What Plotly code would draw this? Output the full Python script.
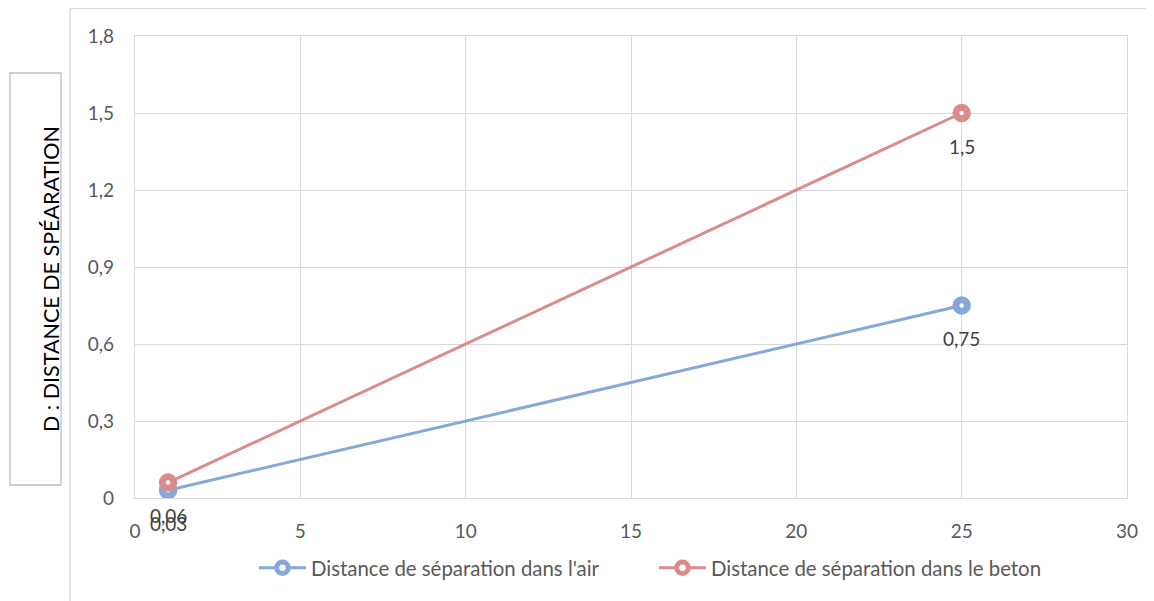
import plotly.graph_objects as go

x_vals = [1, 25]
air_vals = [0.03, 0.75]
beton_vals = [0.06, 1.5]
air_name = "Distance de séparation dans l'air"
beton_name = "Distance de séparation dans le beton"
y_title = "D : DISTANCE DE SPÉARATION"
label_fmt = lambda v: str(v).replace(".", ",")

BLUE = "#86A8D8"
RED = "#DA8C8C"
FONT = "Lato, Open Sans, sans-serif"
TXT = "#595959"

# page offset of 8px (body margin) compensated: paper spans x 8..1154, y 8..601
PL, PT, PW, PH = 127, 28, 992, 462  # plot area within paper
def px(xp):  # page x -> paper fraction
    return (xp - 8 - PL) / PW
def py(yp):  # page y -> paper fraction
    return (PT + PH - (yp - 8)) / PH

fig = go.Figure()
for name, ys, col in [(air_name, air_vals, BLUE), (beton_name, beton_vals, RED)]:
    fig.add_trace(go.Scatter(
        x=x_vals, y=ys, name=name, mode="lines+markers",
        line=dict(color=col, width=3),
        marker=dict(symbol="circle", size=11.5, color="white",
                    line=dict(color=col, width=7)),
    ))
    for xv, yv in zip(x_vals, ys):
        fig.add_annotation(x=xv, y=yv, text=label_fmt(yv), showarrow=False,
                           yshift=-33, font=dict(family=FONT, size=19, color="#404040"))

# y-axis title box (outside chart area)
fig.add_shape(type="rect", xref="paper", yref="paper",
              x0=px(10), x1=px(61), y0=py(485), y1=py(73),
              line=dict(color="#BFBFBF", width=1.3), fillcolor="white")
fig.add_annotation(xref="paper", yref="paper", x=px(36), y=py(279),
                   text=y_title, textangle=-90, showarrow=False,
                   font=dict(family=FONT, size=21.5, color="#000000"))
# chart area border (top and left)
fig.add_shape(type="line", xref="paper", yref="paper",
              x0=px(70), x1=px(1170), y0=py(8.5), y1=py(8.5),
              line=dict(color="#D9D9D9", width=1.5))
fig.add_shape(type="line", xref="paper", yref="paper",
              x0=px(70), x1=px(70), y0=py(8.5), y1=py(620),
              line=dict(color="#D9D9D9", width=1.5))

fig.update_layout(
    width=1146, height=593,
    margin=dict(l=PL, r=1146 - PL - PW, t=PT, b=593 - PT - PH),
    paper_bgcolor="white", plot_bgcolor="white",
    separators=", ",
    font=dict(family=FONT, size=19, color=TXT),
    showlegend=True,
    legend=dict(orientation="h", x=px(654), xanchor="center", y=py(568), yanchor="middle",
                font=dict(family=FONT, size=20.4, color=TXT), itemwidth=47,
                entrywidth=338, entrywidthmode="pixels"),
    xaxis=dict(range=[0, 30], dtick=5, tick0=0, showgrid=True, gridcolor="#D9D9D9",
               gridwidth=1.3, zeroline=False, showline=True, linecolor="#D9D9D9",
               linewidth=1.3, mirror=True, ticks="outside", ticklen=16,
               tickcolor="rgba(0,0,0,0)", tickfont=dict(size=19, color=TXT)),
    yaxis=dict(range=[0, 1.8], dtick=0.3, tick0=0, showgrid=True, gridcolor="#D9D9D9",
               gridwidth=1.3, zeroline=False, showline=True, linecolor="#D9D9D9",
               linewidth=1.3, mirror=True, ticks="outside", ticklen=16,
               tickcolor="rgba(0,0,0,0)", tickformat=".1~f",
               tickfont=dict(size=19, color=TXT)),
)
fig.write_html("out.html")
